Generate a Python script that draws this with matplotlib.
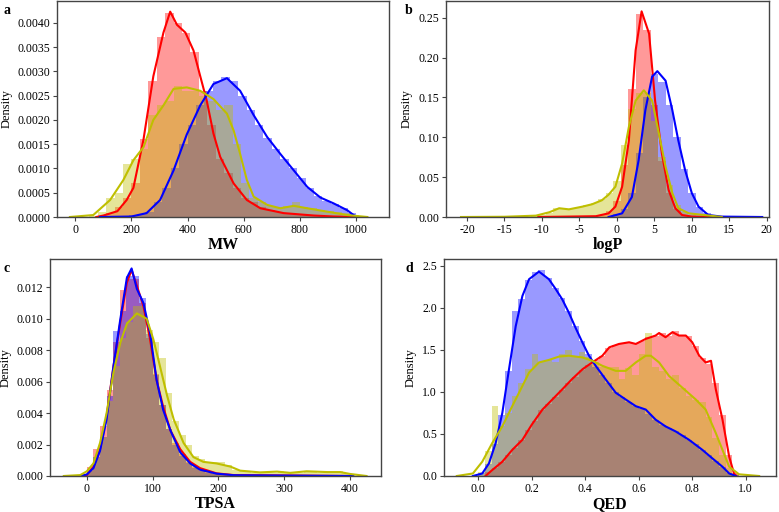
import matplotlib
matplotlib.use('Agg')
import matplotlib.pyplot as plt
import numpy as np

plt.rcParams['font.family'] = ['Liberation Serif', 'DejaVu Serif']
plt.rcParams['axes.unicode_minus'] = False

# ---- panel a: MW (bin width 30) ----
mw_red_start, mw_blue_start, mw_yel_start, mw_width = 80, 100, -10, 30
mw_red_bars = [0.00003, 0.00008, 0.0002, 0.0004, 0.0007, 0.0016, 0.0028, 0.0037, 0.0042, 0.0040,
               0.0038, 0.0034, 0.0026, 0.0019, 0.0012, 0.0009, 0.0006, 0.0004, 0.0003, 0.0002,
               0.00015, 0.0001, 0.00008, 0.00006, 0.00005, 0.00004, 0.00003, 0.00002, 0.00002,
               0.00001, 0.00001]
mw_blue_bars = [0.0, 0.0, 0.00002, 0.00004, 0.00006, 0.0001, 0.0003, 0.0006, 0.001, 0.0015,
                0.0019, 0.0023, 0.0026, 0.0028, 0.00288, 0.0028, 0.0025, 0.0022, 0.0019, 0.00163,
                0.0014, 0.0012, 0.001, 0.0008, 0.0006, 0.00043, 0.00033, 0.00027, 0.00018, 0.00008]
mw_yel_bars = [0.0, 0.0, 0.00002, 0.0001, 0.0004, 0.0005, 0.0011, 0.0012, 0.0014, 0.0021,
               0.0023, 0.0024, 0.0027, 0.0026, 0.0026, 0.0025, 0.0024, 0.0022, 0.0023, 0.0015,
               0.0007, 0.0004, 0.0003, 0.00022, 0.0002, 0.00022, 0.0003, 0.0002, 0.00018, 0.00015,
               0.00013, 0.0001, 0.00008, 0.00005, 0.00002]
mw_red_kx = [75, 100, 150, 183, 207, 243, 278, 314, 338, 362, 392, 421, 445, 468, 492, 516, 564,
             611, 659, 742, 850, 920, 998]
mw_red_ky = [0, 0.00003, 0.00012, 0.00035, 0.0006, 0.0016, 0.0029, 0.0038, 0.00423, 0.00396,
             0.0038, 0.00343, 0.0029, 0.0024, 0.00172, 0.00124, 0.00069, 0.00035, 0.00018,
             0.00008, 0.00003, 0.00001, 0]
mw_blue_kx = [88, 200, 254, 302, 350, 397, 445, 492, 540, 587, 635, 683, 730, 778, 826, 873,
              920, 968, 998]
mw_blue_ky = [0, 0.00001, 0.00008, 0.00035, 0.00096, 0.0017, 0.0023, 0.00274, 0.00286, 0.0026,
              0.0021, 0.00165, 0.0013, 0.00096, 0.00062, 0.0004, 0.00028, 0.00014, 0.00001]
mw_yel_kx = [-19, 64, 124, 171, 207, 243, 278, 314, 350, 397, 445, 492, 540, 564, 587, 611,
             635, 683, 730, 778, 826, 897, 968, 1040]
mw_yel_ky = [0, 0.00004, 0.00035, 0.00076, 0.00117, 0.00144, 0.002, 0.0023, 0.00264, 0.00267,
             0.0026, 0.00243, 0.00213, 0.00178, 0.0013, 0.00076, 0.00042, 0.00025, 0.00018,
             0.00023, 0.00018, 0.00011, 0.00004, 0]

# ---- panel b: logP (bin width 1) ----
lp_red_start, lp_blue_start, lp_yel_start, lp_width = -10.5, -1.5, -21.5, 1.0
lp_red_bars = [0, 0, 0, 0, 0, 0.0005, 0.001, 0.0015, 0.003, 0.007, 0.02, 0.065, 0.16, 0.255,
               0.235, 0.14, 0.07, 0.03, 0.01, 0.003]
lp_blue_bars = [0, 0.004, 0.01, 0.03, 0.08, 0.15, 0.18, 0.17, 0.14, 0.1, 0.06, 0.03, 0.012,
                0.005, 0.002, 0.001, 0.0005, 0.0003, 0.0002, 0.0001, 0.0001]
lp_yel_bars = [0.0002] * 10 + [0.001, 0.002, 0.005, 0.011, 0.01, 0.01, 0.012, 0.015, 0.017,
                               0.022, 0.03, 0.045, 0.09, 0.135, 0.155, 0.155, 0.12, 0.075,
                               0.04, 0.015, 0.006, 0.003, 0.001, 0.0005, 0.0002, 0.0001]
lp_red_kx = [-10.5, -2.8, -1.1, -0.2, 0.7, 1.6, 2.5, 3.3, 4.3, 5.1, 6.0, 6.9, 7.8, 8.7, 10, 14]
lp_red_ky = [0, 0.001, 0.0046, 0.013, 0.038, 0.096, 0.209, 0.258, 0.23, 0.146, 0.08, 0.034,
             0.011, 0.0025, 0.0005, 0]
lp_blue_kx = [-1.1, 0.7, 2.0, 2.9, 3.8, 4.7, 5.4, 6.5, 7.4, 8.2, 9.1, 10.0, 10.9, 12.2, 14, 19.4]
lp_blue_ky = [0, 0.0046, 0.025, 0.071, 0.134, 0.176, 0.183, 0.171, 0.134, 0.096, 0.059, 0.03,
              0.013, 0.0025, 0.0005, 0]
lp_yel_kx = [-20.8, -15, -10.8, -9.0, -7.7, -6.4, -4.6, -3.3, -2.0, -1.1, -0.2, 0.7, 1.6, 2.5,
             3.6, 4.7, 5.6, 6.5, 7.4, 8.2, 9.6, 14]
lp_yel_ky = [0, 0.0003, 0.0017, 0.006, 0.011, 0.0096, 0.013, 0.016, 0.021, 0.028, 0.038, 0.067,
             0.113, 0.146, 0.159, 0.146, 0.105, 0.063, 0.03, 0.011, 0.0046, 0]

# ---- panel c: TPSA (bin width 10) ----
tp_start, tp_width = 0, 10
tp_red_bars = [0.0006, 0.0017, 0.0032, 0.0055, 0.0085, 0.0118, 0.0125, 0.0125, 0.011, 0.0088,
               0.0065, 0.0045, 0.003, 0.0021, 0.0014, 0.0009, 0.0006, 0.0004, 0.0003, 0.0002,
               0.00015, 0.0001, 0.00008, 0.00005, 0.00003]
tp_blue_bars = [0.0003, 0.0012, 0.0025, 0.0051, 0.0092, 0.0105, 0.0127, 0.0127, 0.0113, 0.009,
                0.0064, 0.0045, 0.003, 0.002, 0.0013, 0.0008, 0.0005, 0.0003, 0.0002, 0.00015,
                0.0001, 0.00008, 0.00005, 0.00003]
tp_yel_bars = [0.0004, 0.0012, 0.0025, 0.0048, 0.007, 0.0088, 0.0098, 0.0108, 0.0108, 0.0093,
               0.0085, 0.0075, 0.0053, 0.0035, 0.0026, 0.002, 0.0013, 0.0011, 0.0009, 0.0009,
               0.0009, 0.0007, 0.0004, 0.0003, 0.0003, 0.0002, 0.0002, 0.0002, 0.0002, 0.0003,
               0.0002, 0.0002, 0.0002, 0.0003, 0.0003, 0.0002, 0.0002, 0.0002, 0.0003, 0.0002]
tp_red_kx = [-10, 0, 10, 20, 30, 40.5, 50.6, 60.8, 68, 76, 86, 96, 106, 116, 127, 142, 157, 172,
             197, 223, 400]
tp_red_ky = [0, 0.00006, 0.0006, 0.0017, 0.0038, 0.007, 0.0097, 0.0123, 0.0131, 0.0121, 0.0108,
             0.0087, 0.0061, 0.0044, 0.0029, 0.0017, 0.0009, 0.0005, 0.00017, 0.00006, 0]
tp_blue_kx = [-10, 0, 10, 20, 30, 40.5, 50.6, 60.8, 68, 76, 86, 96, 106, 116, 127, 142, 157, 172,
              197, 223, 405]
tp_blue_ky = [0, 0.0001, 0.0005, 0.0016, 0.0036, 0.007, 0.0099, 0.0126, 0.0132, 0.0119, 0.011,
              0.0091, 0.0061, 0.0042, 0.0029, 0.0015, 0.0008, 0.0004, 0.00015, 0.00005, 0]
tp_yel_kx = [-35, -10, 0, 10, 20, 30, 40.5, 51, 61, 76, 91, 101, 111, 122, 132, 147, 162, 177,
             197, 218, 233, 263, 289, 309, 334, 365, 385, 400, 425]
tp_yel_ky = [0, 0.00006, 0.0003, 0.0008, 0.0021, 0.004, 0.0066, 0.0085, 0.0097, 0.01034, 0.01,
             0.0087, 0.007, 0.0051, 0.0036, 0.0021, 0.0012, 0.0009, 0.0008, 0.0006, 0.00034,
             0.00023, 0.00028, 0.0002, 0.0003, 0.00025, 0.00025, 0.00013, 0]

# ---- panel d: QED (bin width 0.025) ----
qed_start, qed_width = 0.0, 0.025
qed_blue_bars = [0.03, 0.14, 0.38, 0.73, 1.25, 1.96, 2.1, 2.33, 2.42, 2.45, 2.35, 2.23, 2.12,
                 1.96, 1.78, 1.6, 1.45, 1.3, 1.2, 1.1, 1.0, 0.94, 0.88, 0.83, 0.8, 0.74, 0.67,
                 0.61, 0.57, 0.53, 0.49, 0.43, 0.38, 0.31, 0.25, 0.18, 0.11, 0.04, 0.01, 0.0]
qed_red_bars = [0, 0.05, 0.1, 0.17, 0.25, 0.33, 0.43, 0.55, 0.65, 0.78, 0.86, 0.94, 1.02, 1.1,
                1.18, 1.26, 1.32, 1.38, 1.43, 1.52, 1.56, 1.57, 1.59, 1.58, 1.6, 1.65, 1.67,
                1.7, 1.66, 1.72, 1.68, 1.67, 1.55, 1.4, 1.33, 1.1, 0.72, 0.25, 0.03, 0]
qed_yel_bars = [0.05, 0.3, 0.83, 0.6, 0.75, 0.95, 1.1, 1.27, 1.45, 1.35, 1.38, 1.35, 1.45, 1.5,
                1.42, 1.48, 1.42, 1.35, 1.3, 1.3, 1.3, 1.15, 1.28, 1.2, 1.45, 1.7, 1.3, 1.25,
                1.15, 1.2, 1.05, 0.95, 0.9, 0.88, 0.7, 0.45, 0.25, 0.1, 0.02, 0.0]
qed_blue_kx = [-0.02, 0.015, 0.04, 0.065, 0.09, 0.115, 0.14, 0.165, 0.19, 0.227, 0.264, 0.29,
               0.314, 0.339, 0.364, 0.389, 0.414, 0.439, 0.476, 0.514, 0.551, 0.589, 0.626,
               0.663, 0.7, 0.738, 0.788, 0.838, 0.875, 0.913, 0.938, 0.963]
qed_blue_ky = [0, 0.03, 0.15, 0.39, 0.75, 1.27, 1.78, 2.14, 2.34, 2.43, 2.34, 2.22, 2.1, 1.94,
               1.76, 1.59, 1.43, 1.31, 1.15, 0.99, 0.91, 0.83, 0.79, 0.67, 0.59, 0.53, 0.43,
               0.31, 0.21, 0.11, 0.03, 0]
qed_red_kx = [0.027, 0.052, 0.09, 0.127, 0.165, 0.2, 0.24, 0.277, 0.314, 0.35, 0.39, 0.426,
              0.464, 0.49, 0.526, 0.564, 0.589, 0.626, 0.663, 0.676, 0.7, 0.726, 0.75, 0.776,
              0.8, 0.826, 0.85, 0.87, 0.888, 0.913, 0.938, 0.956, 0.965]
qed_red_ky = [0, 0.07, 0.17, 0.31, 0.43, 0.61, 0.79, 0.91, 1.03, 1.15, 1.27, 1.35, 1.43, 1.53,
              1.57, 1.59, 1.57, 1.63, 1.67, 1.70, 1.65, 1.71, 1.67, 1.67, 1.59, 1.43, 1.35,
              1.37, 1.03, 0.67, 0.23, 0.03, 0]
qed_yel_kx = [-0.08, -0.02, 0.015, 0.052, 0.09, 0.127, 0.165, 0.19, 0.227, 0.264, 0.302, 0.339,
              0.389, 0.426, 0.464, 0.514, 0.551, 0.589, 0.626, 0.645, 0.676, 0.713, 0.763,
              0.813, 0.85, 0.888, 0.913, 0.938, 0.975, 1.05]
qed_yel_ky = [0, 0.03, 0.17, 0.39, 0.59, 0.83, 1.07, 1.23, 1.35, 1.38, 1.42, 1.43, 1.41, 1.37,
              1.31, 1.25, 1.25, 1.35, 1.43, 1.43, 1.35, 1.19, 1.05, 0.91, 0.79, 0.51, 0.31,
              0.11, 0.02, 0]

W, H = 779, 512
RED, BLUE, YEL = 'red', 'blue', (0.75, 0.75, 0.0)


def px_axes(fig, left, right, top, bottom):
    return fig.add_axes([left / W, (H - bottom) / H, (right - left) / W, (bottom - top) / H])


def dist(ax, start, width, bars, kx, ky, color):
    centers = start + width * (np.arange(len(bars)) + 0.5)
    ax.bar(centers, bars, width=width, color=color, alpha=0.4, linewidth=0)
    ax.plot(kx, ky, color=color, lw=1.5)


def style(ax, xlabel, xlim, ylim, xticks, yticks, yfmt, ylab_x):
    ax.set_xlim(*xlim)
    ax.set_ylim(*ylim)
    ax.set_xticks(xticks)
    ax.set_yticks(yticks)
    ax.set_yticklabels([yfmt.format(v) for v in yticks])
    ax.set_xlabel(xlabel, fontsize=11.5, fontweight='bold', labelpad=1)
    ax.set_ylabel('Density', fontsize=9)
    ax.yaxis.set_label_coords(ylab_x, 0.5)
    ax.tick_params(labelsize=8.5, length=3, width=0.8, color='#444444', pad=2)
    for s in ax.spines.values():
        s.set_color('#444444')
        s.set_linewidth(1.0)


fig = plt.figure(figsize=(W / 100, H / 100), dpi=100)

ax = px_axes(fig, 57, 389, 1, 217)
dist(ax, mw_red_start, mw_width, mw_red_bars, mw_red_kx, mw_red_ky, RED)
dist(ax, mw_blue_start, mw_width, mw_blue_bars, mw_blue_kx, mw_blue_ky, BLUE)
dist(ax, mw_yel_start, mw_width, mw_yel_bars, mw_yel_kx, mw_yel_ky, YEL)
style(ax, 'MW', (-65, 1117), (0, 0.00445), range(0, 1001, 200),
      np.arange(0, 0.00401, 0.0005), '{:.4f}', -0.133)

ax = px_axes(fig, 446, 769, 1, 217)
dist(ax, lp_red_start, lp_width, lp_red_bars, lp_red_kx, lp_red_ky, RED)
dist(ax, lp_blue_start, lp_width, lp_blue_bars, lp_blue_kx, lp_blue_ky, BLUE)
dist(ax, lp_yel_start, lp_width, lp_yel_bars, lp_yel_kx, lp_yel_ky, YEL)
style(ax, 'logP', (-22.8, 20.3), (0, 0.271), range(-20, 21, 5),
      np.arange(0, 0.251, 0.05), '{:.2f}', -0.102)

ax = px_axes(fig, 50, 381, 259, 476)
dist(ax, tp_start, tp_width, tp_red_bars, tp_red_kx, tp_red_ky, RED)
dist(ax, tp_start, tp_width, tp_blue_bars, tp_blue_kx, tp_blue_ky, BLUE)
dist(ax, tp_start, tp_width, tp_yel_bars, tp_yel_kx, tp_yel_ky, YEL)
style(ax, 'TPSA', (-56, 447), (0, 0.0138), range(0, 401, 100),
      np.arange(0, 0.0121, 0.002), '{:.3f}', -0.115)

ax = px_axes(fig, 444, 776, 259, 476)
dist(ax, qed_start, qed_width, qed_red_bars, qed_red_kx, qed_red_ky, RED)
dist(ax, qed_start, qed_width, qed_blue_bars, qed_blue_kx, qed_blue_ky, BLUE)
dist(ax, qed_start, qed_width, qed_yel_bars, qed_yel_kx, qed_yel_ky, YEL)
style(ax, 'QED', (-0.128, 1.113), (0, 2.58), np.arange(0, 1.01, 0.2),
      np.arange(0, 2.51, 0.5), '{:.1f}', -0.081)

# panel letters, placed in figure pixels
for letter, (lx, ly) in zip('abcd', [(3, 10), (405, 10), (3, 268), (406, 268)]):
    fig.text(lx / W, 1 - ly / H, letter, fontsize=10, fontweight='bold', va='center')

fig.savefig('out.png', dpi=100)
